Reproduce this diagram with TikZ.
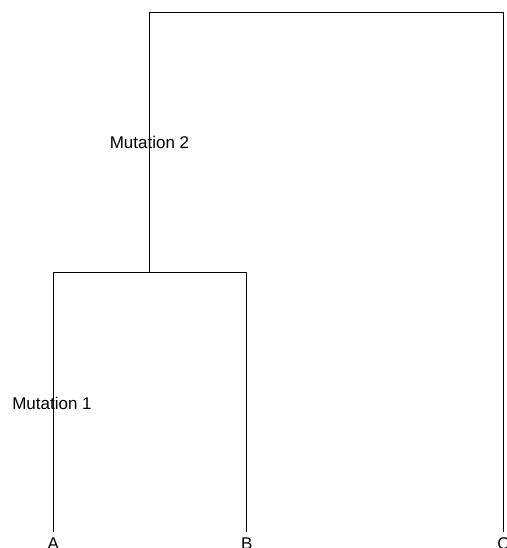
\documentclass[tikz,border=0pt]{standalone}
\usepackage{fontspec}
\setmainfont{Liberation Sans}
\begin{document}
\begin{tikzpicture}[x=1pt,y=-1pt,
  branch/.style={draw=black,line width=1pt},
  lbl/.style={font=\fontsize{17}{20}\selectfont,inner sep=0pt,anchor=base},
  mutlbl/.style={font=\fontsize{17}{20}\selectfont,inner sep=0pt,anchor=base}]
\useasboundingbox (0,0) rectangle (506,548);
\clip (0,0) rectangle (506,548);
\fill[white] (0,0) rectangle (506,548);
% junctions
\coordinate (root) at (149.5,13);
\coordinate (ab) at (149.5,272.3);
\coordinate (ctop) at (503.5,13);
\coordinate (aend) at (53.3,532.3);
\coordinate (bend) at (246.7,532.3);
\coordinate (cend) at (503.5,532.3);
% leaf labels
\node[lbl] (A) at (53.3,549) {A};
\node[lbl] (B) at (246.7,549) {B};
\node[lbl] (C) at (503.5,549) {C};
% branches
\draw[branch] (aend) |- (ab) -| (bend);
\draw[branch] (ab) -- (root) -- (ctop) -- (cend);
% mutation labels
\node[mutlbl] (m2) at (149.5,149) {Mutation 2};
\node[mutlbl] (m1) at (52,409) {Mutation 1};
\end{tikzpicture}
\end{document}
